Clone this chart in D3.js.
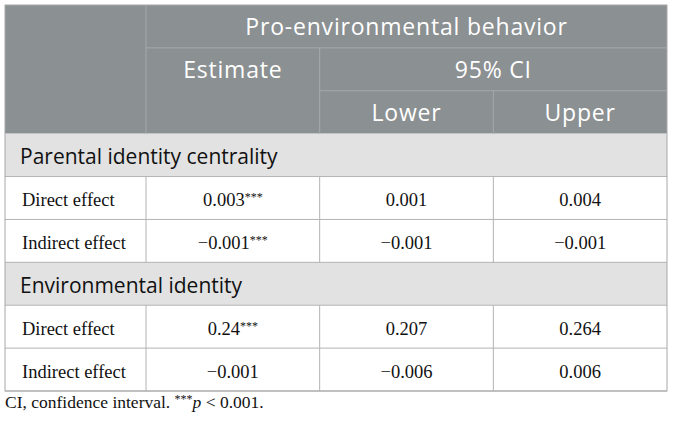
<!DOCTYPE html>
<html>
<head>
<meta charset="utf-8">
<script src="https://cdn.jsdelivr.net/npm/d3@7"></script>
<style>
	body { margin: 0; background: #fff; }
	svg { display: block; }
</style>
</head>
<body>
<svg id="chart"></svg>
<script>
// table content
const groupTitle = "Pro-environmental behavior";
const ciTitle = "95% CI";
const columns = ["Estimate", "Lower", "Upper"];
const sections = ["Parental identity centrality", "Environmental identity"];
const effects = ["Direct effect", "Indirect effect"];
const estimates = ["0.003", "\u22120.001", "0.24", "\u22120.001"];
const estimateSig = ["***", "***", "***", ""];
const lowerCI = ["0.001", "\u22120.001", "0.207", "\u22120.006"];
const upperCI = ["0.004", "\u22120.001", "0.264", "0.006"];

const width = 673, height = 424;
const svg = d3.select("#chart").attr("width", width).attr("height", height);

const headerBg = "#8b9092", headerLine = "#a6aaac";
const sectionBg = "#e1e2e1", gridLine = "#b3b3b3";
const sansFont = "'Open Sans', 'DejaVu Sans', sans-serif";
const serifFont = "'Liberation Serif', 'DejaVu Serif', serif";

// 3 header rows + 2 sections x (1 title + 2 effects)
const rowKeys = ["h1", "h2", "h3"];
sections.forEach((s, i) => {
	rowKeys.push("s" + i);
	effects.forEach((e, j) => rowKeys.push("r" + i + "_" + j));
});
const y = d3.scaleBand().domain(rowKeys).range([5, 391]);
const x = d3.scaleLinear().domain([0, columns.length]).range([146, 667]);
const left = 5, right = x(columns.length);

// header background
svg.append("rect")
	.attr("x", left).attr("y", y("h1"))
	.attr("width", right - left).attr("height", y("s0") - y("h1"))
	.attr("fill", headerBg);

// section backgrounds
sections.forEach((s, i) => {
	svg.append("rect")
		.attr("x", left).attr("y", y("s" + i))
		.attr("width", right - left).attr("height", y.bandwidth())
		.attr("fill", sectionBg);
});

const line = (x1, y1, x2, y2, c) => svg.append("line")
	.attr("x1", x1).attr("y1", y1).attr("x2", x2).attr("y2", y2)
	.attr("stroke", c).attr("stroke-width", 1);

// header grid
line(x(0), y("h2"), right, y("h2"), headerLine);
line(x(1), y("h3"), right, y("h3"), headerLine);
line(x(0), y("h1"), x(0), y("s0"), headerLine);
line(x(1), y("h2"), x(1), y("s0"), headerLine);
line(x(2), y("h3"), x(2), y("s0"), headerLine);

// body grid
const bodyBottom = y.range()[1];
rowKeys.slice(3).forEach((k) => {
	line(left, y(k) + y.bandwidth(), right, y(k) + y.bandwidth(), gridLine);
});
sections.forEach((s, i) => {
	const top = y("r" + i + "_0"), bottom = y("r" + i + "_1") + y.bandwidth();
	d3.range(columns.length).forEach((c) => line(x(c), top, x(c), bottom, gridLine));
});

// outer frame
svg.append("rect")
	.attr("x", left).attr("y", y("h1"))
	.attr("width", right - left).attr("height", bodyBottom - y("h1"))
	.attr("fill", "none").attr("stroke", "#a8a8a8").attr("stroke-width", 1);

// header texts
const headText = (tx, ty, t) => svg.append("text")
	.attr("x", tx).attr("y", ty).attr("text-anchor", "middle")
	.attr("font-family", sansFont).attr("font-size", "23px")
	.attr("letter-spacing", "0.8px")
	.attr("fill", "#fff").text(t);
const mid = (k) => y(k) + y.bandwidth() / 2;
headText((x(0) + right) / 2, mid("h1") + 9, groupTitle);
headText((x(0) + x(1)) / 2, mid("h2") + 9, columns[0]);
headText((x(1) + right) / 2, mid("h2") + 9, ciTitle);
columns.slice(1).forEach((c, i) => headText((x(i + 1) + x(i + 2)) / 2, mid("h3") + 9, c));

// sections and rows
sections.forEach((s, i) => {
	svg.append("text")
		.attr("x", 20).attr("y", mid("s" + i) + 9)
		.attr("font-family", sansFont).attr("font-size", "21px")
		.attr("fill", "#111").text(s);

	effects.forEach((e, j) => {
		const k = "r" + i + "_" + j, idx = i * effects.length + j;
		const ty = mid(k) + 8;
		const cell = (cx, t, anchor) => svg.append("text")
			.attr("x", cx).attr("y", ty).attr("text-anchor", anchor)
			.attr("font-family", serifFont).attr("font-size", "18.5px")
			.attr("fill", "#111").text(t);
		cell(22, e, "start");
		const est = cell((x(0) + x(1)) / 2, estimates[idx], "middle");
		if (estimateSig[idx]) {
			est.append("tspan").attr("dy", -5).attr("font-size", "12px").text(estimateSig[idx]);
		}
		cell((x(1) + x(2)) / 2, lowerCI[idx], "middle");
		cell((x(2) + x(3)) / 2, upperCI[idx], "middle");
	});
});

// footnote
const foot = svg.append("text")
	.attr("x", 5).attr("y", 408)
	.attr("font-family", serifFont).attr("font-size", "17.5px").attr("fill", "#111");
foot.append("tspan").text("CI, confidence interval. ");
foot.append("tspan").attr("dy", -5).attr("font-size", "12px").text("***");
foot.append("tspan").attr("dy", 5).attr("font-style", "italic").text("p");
foot.append("tspan").text(" < 0.001.");
</script>
</body>
</html>
